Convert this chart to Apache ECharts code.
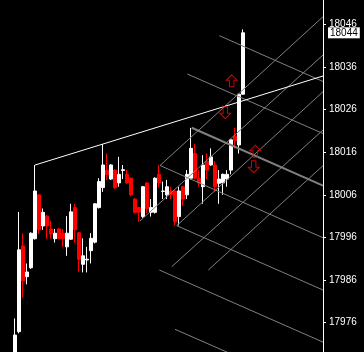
<!DOCTYPE html>
<html><head><meta charset="utf-8">
<script src="https://cdn.jsdelivr.net/npm/echarts@6/dist/echarts.min.js"></script>
<style>html,body{margin:0;padding:0;background:#000;}#c{width:364px;height:352px;}</style>
</head><body><div id="c"></div>
<script>
// Candles (bar index 0..57), prices
const opens  = [17965.0,17973.9,17994.0,17986.8,17988.9,17995.7,18006.0,17998.7,18001.0,17998.0,17995.7,17998.0,17997.0,17993.8,17995.6,18003.0,17997.1,17989.7,17990.7,17992.9,17994.9,18003.0,18007.7,18011.8,18009.7,18011.8,18008.8,18011.7,18010.8,18009.9,18005.0,18003.0,18000.9,18008.8,18001.9,18001.9,18010.8,18006.8,18006.0,18006.9,18006.9,18000.9,18007.9,18006.0,18009.9,18015.7,18009.9,18007.9,18013.9,18013.0,18013.0,18008.7,18008.8,18009.7,18011.8,18019.8,18017.7,18029.6];
const closes = [17973.1,17993.1,17985.8,17987.9,17997.0,18006.9,17997.8,18001.9,17998.7,17996.8,17997.0,17995.7,17995.7,17997.0,18002.0,17997.8,17990.9,17991.7,17990.9,17995.8,18003.9,18009.1,18013.0,18010.7,18013.0,18007.7,18010.8,18011.9,18008.8,18006.0,18001.9,18001.9,18007.9,18002.8,18003.0,18009.9,18008.8,18006.9,18007.9,18006.0,17999.7,18006.9,18005.0,18010.8,18016.9,18009.9,18008.8,18013.0,18011.8,18014.9,18007.9,18009.7,18010.8,18010.8,18018.9,18018.7,18029.6,18044.0];
const lows   = [17964.0,17973.5,17981.9,17985.0,17988.6,17995.5,17996.8,17997.8,17995.7,17995.7,17994.8,17995.5,17993.8,17991.7,17995.4,17994.7,17988.0,17987.8,17987.8,17989.9,17994.6,18002.8,18006.7,18009.5,18009.5,18007.4,18007.9,18009.7,18008.6,18005.7,18001.6,17999.7,18000.6,18001.7,18000.9,18001.6,18007.7,18005.0,18005.0,18005.0,17998.8,17998.8,18003.4,18005.0,18009.6,18009.6,18007.9,18003.9,18009.7,18012.8,18006.7,18003.9,18006.0,18007.9,18010.8,18016.9,18015.7,18029.5];
const highs  = [17977.0,18002.0,17997.0,17989.9,17997.2,18013.0,18006.1,18002.8,18001.3,17999.9,17998.0,17998.2,17998.0,18001.0,18003.9,18003.9,17997.3,17995.8,17993.8,17997.0,18004.0,18009.9,18017.9,18015.7,18013.2,18012.0,18014.9,18013.0,18011.8,18010.1,18005.2,18003.2,18008.1,18009.0,18005.0,18010.1,18013.0,18009.1,18009.5,18007.9,18007.1,18007.9,18008.1,18011.8,18021.7,18017.9,18011.8,18015.3,18015.7,18016.9,18013.9,18011.8,18011.0,18011.8,18019.0,18021.7,18029.6,18044.8];

// Axis tick labels
const priceTicks = [17976,17986,17996,18006,18016,18026,18036,18046];

// Trend line through two highs, extended to the right edge: [barIndex, price]
const trendLine = [[5,18012.99],[77,18033.87]];

// Grid lines, descending family: [[bar, price],[bar, price]]
const gridDown = [
  [[51.08,18043.33],[77,18032.58]],
  [[43.08,18034.34],[77,18020.38]],
  [[36.25,18012.88],[77,17995.92]],
  [[40.43,17998.76],[77,17983.67]],
  [[36.08,17988.36],[77,17971.45]],
  [[40.00,17974.45],[77,17959.23]]
];
const gridDownThick = [[44.18,18021.74],[77,18008.16]];
// Ascending family
const gridUp = [
  [[36.25,18012.88],[77,18047.78]],
  [[31.25,17999.86],[77,18038.80]],
  [[40.43,17998.76],[77,18030.19]],
  [[39.18,17989.14],[77,18021.20]],
  [[48.33,17988.36],[77,18012.83]]
];
// Arrow marks [bar, price]
const arrowsUp = [[54.18,18032.75],[60.08,18016.23]];
const arrowsDown = [[52.58,18025.26],[59.68,18012.60]];

const candleData = opens.map((o,i)=>[i,o,closes[i],lows[i],highs[i]]);
const lastClose = closes[closes.length-1];

const series = [];
gridDown.forEach(seg=>series.push({type:'line',data:seg,symbol:'none',silent:true,z:3,
  lineStyle:{color:'#808080',width:1}}));
series.push({type:'line',data:gridDownThick,symbol:'none',silent:true,z:3,lineStyle:{color:'#808080',width:2}});
gridUp.forEach(seg=>series.push({type:'line',data:seg,symbol:'none',silent:true,z:3,
  lineStyle:{color:'#808080',width:1}}));
series.push({type:'candlestick',data:candleData,barWidth:3,barMinWidth:3,z:2,
  itemStyle:{color:'#ffffff',color0:'#ff0000',borderColor:'#ffffff',borderColor0:'#ff0000',borderWidth:1},
  markLine:{silent:true,symbol:['none','none'],animation:false,
    lineStyle:{color:'rgba(0,0,0,0)',width:0},
    label:{show:true,position:'end',distance:5,formatter:p=>String(Math.round(p.value)),
      backgroundColor:'#ffffff',color:'#000000',fontFamily:'Liberation Sans',fontSize:10,padding:[1,2,0,2]},
    data:[{yAxis:lastClose}]}});
series.push({type:'line',data:trendLine,symbol:'none',silent:true,z:4,lineStyle:{color:'#ffffff',width:1}});
series.push({type:'scatter',data:arrowsUp,silent:true,z:5,symbol:'path://M5,0 L10,5 L7,5 L7,11 L3,11 L3,5 L0,5 Z',
  symbolSize:[11,12],itemStyle:{color:'rgba(0,0,0,0)',borderColor:'#ff0000',borderWidth:1}});
series.push({type:'scatter',data:arrowsDown,silent:true,z:5,symbol:'path://M3,0 L7,0 L7,6 L10,6 L5,11 L0,6 L3,6 Z',
  symbolSize:[11,12],itemStyle:{color:'rgba(0,0,0,0)',borderColor:'#ff0000',borderWidth:1}});

const chart = echarts.init(document.getElementById('c'),null,{renderer:'canvas'});
chart.setOption({
  backgroundColor:'#000000',
  animation:false,
  grid:{left:0,right:41,top:0,bottom:0,containLabel:false},
  xAxis:{type:'value',min:-3.75,max:77,show:false,splitLine:{show:false}},
  yAxis:{type:'value',position:'right',min:17969.13,max:18051.70,
    splitLine:{show:false},
    axisLine:{show:true,onZero:false,lineStyle:{color:'#ffffff',width:1}},
    axisTick:{show:true,length:3,lineStyle:{color:'#ffffff'},customValues:priceTicks},
    axisLabel:{color:'#ffffff',fontFamily:'Liberation Sans',fontSize:10,margin:6,customValues:priceTicks,
      formatter:v=>String(v)}},
  series:series
});
</script></body></html>
